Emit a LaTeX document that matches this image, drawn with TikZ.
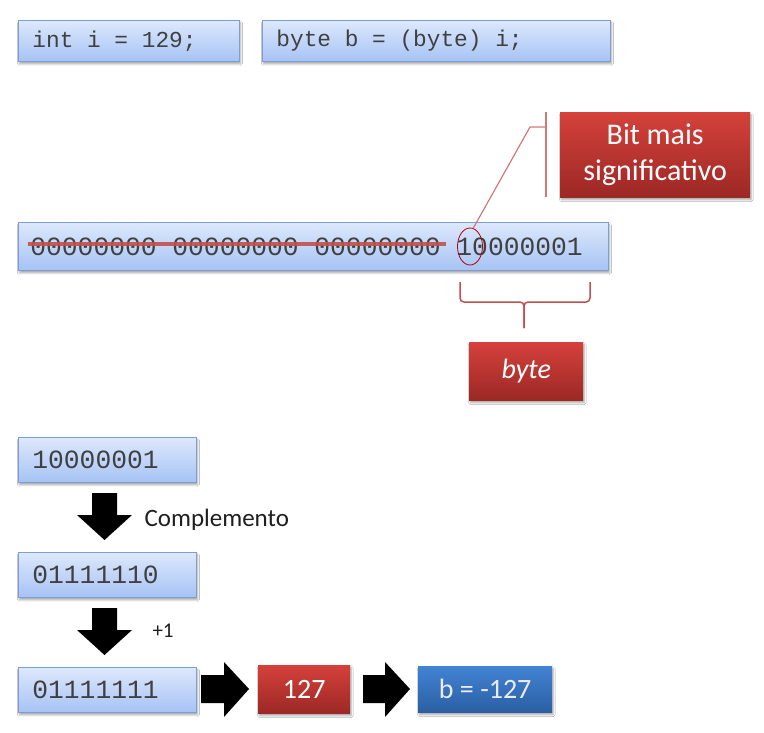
\documentclass[tikz,border=0pt]{standalone}
\usepackage{fontspec}
\setmainfont{Carlito}
\newfontfamily\codefont{Liberation Mono}
\usetikzlibrary{shadows.blur,shapes.geometric,calc}
\definecolor{bluetop}{HTML}{DDE8FC}
\definecolor{bluebot}{HTML}{A6C3F4}
\definecolor{blueline}{HTML}{7D9DD6}
\definecolor{redtop}{HTML}{D5413B}
\definecolor{redbot}{HTML}{9C2825}
\definecolor{dbluetop}{HTML}{4283D3}
\definecolor{dbluebot}{HTML}{2B5FA3}
\definecolor{codegray}{HTML}{404040}
\definecolor{strikecol}{HTML}{C0504D}
\definecolor{calloutcol}{HTML}{D07A78}
\definecolor{bracecol}{HTML}{C0504D}
\tikzset{
  softshadow/.style={blur shadow={shadow xshift=1pt, shadow yshift=-2.5pt, shadow blur steps=6, shadow opacity=35}},
  bluebox/.style={softshadow, draw=blueline, line width=0.8pt, top color=bluetop, bottom color=bluebot,
    anchor=north west, inner xsep=14pt, inner ysep=0pt, text=codegray},
  smallcode/.style={font=\codefont\fontsize{22.8}{26}\selectfont},
  bigcode/.style={font=\codefont\fontsize{26.3}{30}\selectfont},
  redbox/.style={softshadow, top color=redtop, bottom color=redbot, anchor=north west,
    inner sep=0pt, align=center, text=white},
  darkbox/.style={softshadow, top color=dbluetop, bottom color=dbluebot, anchor=north west,
    inner sep=0pt, align=center, text=white!92!blue},
  blockarrow/.style={fill=black},
  steplabel/.style={anchor=base west, text=black!88},
}
\begin{document}
\begin{tikzpicture}[x=1pt,y=-1pt]
\fill[white] (0,0) rectangle (764,733);
\useasboundingbox (0,0) rectangle (764,733);

% top code boxes
\node[bluebox, smallcode, minimum height=41pt] (c1) at (18,20) {\makebox[193pt][l]{int i = 129;}};
\node[bluebox, smallcode, minimum height=41pt] (c2) at (262,20) {\makebox[320pt][l]{byte b = (byte) i;}};

% long 32-bit box
\node[bluebox, bigcode, inner xsep=12pt, minimum height=48pt] (long) at (18,222)
  {\makebox[566pt][l]{00000000 00000000 00000000 10000001}};
\coordinate (s1) at (28,244);
\coordinate (s2) at (446,244);
\draw[strikecol, line width=3.2pt, opacity=0.9] (s1) -- (s2);

% most significant bit
\node[draw=red!70!black, line width=0.8pt, ellipse, minimum width=25pt, minimum height=37pt, inner sep=0pt] (msb) at (470,246.5) {};
\node[redbox, minimum width=190pt, minimum height=85pt, font=\fontsize{30}{36}\selectfont] (bit) at (560,112) {Bit mais\\significativo};
\coordinate (k1) at (530,127);
\coordinate (k2) at (546,127);
\coordinate (v1) at (546,112);
\coordinate (v2) at (546,197);
\draw[calloutcol, line width=1.2pt] (msb.80) -- (k1) -- (k2);
\draw[calloutcol, line width=1.5pt] (v1) -- (v2);

% brace
\coordinate (bl) at (460,282);
\coordinate (br) at (590,282);
\coordinate (bm) at (524,302);
\coordinate (bt) at (524,328);
\draw[bracecol, line width=1.5pt, rounded corners=4pt] (bl) -- (460,302) -- (bm) -- (bt);
\draw[bracecol, line width=1.5pt, rounded corners=4pt] (br) -- (590,302) -- (bm) -- (bt);
\node[redbox, minimum width=114pt, minimum height=58pt, font=\itshape\fontsize{28}{32}\selectfont] (byte) at (469,342) {byte};

% two's complement steps
\node[bluebox, bigcode, minimum height=45pt] (b1) at (18,437) {\makebox[150pt][l]{10000001}};
\node[bluebox, bigcode, minimum height=45pt] (b2) at (18,552) {\makebox[150pt][l]{01111110}};
\node[bluebox, bigcode, minimum height=45pt] (b3) at (18,667) {\makebox[150pt][l]{01111111}};

\fill[blockarrow] (92,493) -- (117,493) -- (117,515) -- (132,515) -- (104.5,540) -- (77,515) -- (92,515) -- cycle;
\fill[blockarrow] (92,608) -- (117,608) -- (117,630) -- (132,630) -- (104.5,655) -- (77,630) -- (92,630) -- cycle;
\node[steplabel, font=\fontsize{25}{30}\selectfont] (lc) at (141,526) {Complemento};
\node[steplabel, font=\fontsize{21}{24}\selectfont] (lp) at (149,637) {+1};

\fill[blockarrow] (201,675) -- (224,675) -- (224,662) -- (249,689) -- (224,717) -- (224,703) -- (201,703) -- cycle;
\node[redbox, minimum width=92pt, minimum height=48pt, font=\fontsize{28}{32}\selectfont] (r127) at (258,665) {127};
\fill[blockarrow] (363,675) -- (385,675) -- (385,662) -- (410,689) -- (385,717) -- (385,703) -- (363,703) -- cycle;
\node[darkbox, minimum width=134pt, minimum height=46pt, font=\fontsize{28}{32}\selectfont] (res) at (418,666) {b = -127};
\end{tikzpicture}
\end{document}
